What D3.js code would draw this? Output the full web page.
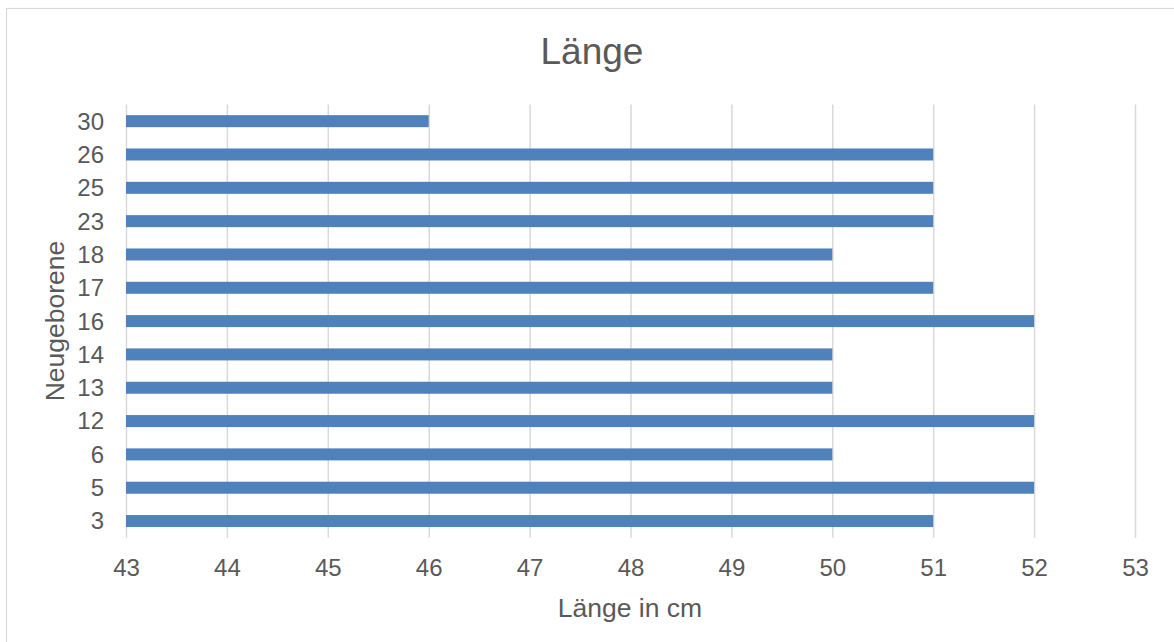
<!DOCTYPE html>
<html lang="de">
<head>
<meta charset="utf-8">
<title>Länge</title>
<script src="https://cdn.jsdelivr.net/npm/d3@7"></script>
<style>
  html, body { margin: 0; padding: 0; background: #fff; }
  svg { display: block; font-family: "Liberation Sans", Arial, sans-serif; }
</style>
</head>
<body>
<svg id="chart" width="1174" height="642"></svg>
<script>
// Newborn IDs (bottom to top) and their length in cm
const newborns = ["3", "5", "6", "12", "13", "14", "16", "17", "18", "23", "25", "26", "30"];
const lengths  = [51, 52, 50, 52, 50, 50, 52, 51, 50, 51, 51, 51, 46];
const xTicks   = [43, 44, 45, 46, 47, 48, 49, 50, 51, 52, 53];

const chartTitle = "Länge";
const xTitle = "Länge in cm";
const yTitle = "Neugeborene";

const textColor = "#595959";
const gridColor = "#d9d9d9";
const barColor = "#4f81bd";

const svg = d3.select("#chart");

// chart frame
svg.append("rect")
  .attr("x", 6.5).attr("y", 8.5)
  .attr("width", 1200).attr("height", 700)
  .attr("fill", "#fff")
  .attr("stroke", gridColor)
  .attr("stroke-width", 1.2);

const plot = { left: 126, right: 1135, top: 104.5, bottom: 537.7 };

const x = d3.scaleLinear()
  .domain([xTicks[0], xTicks[xTicks.length - 1]])
  .range([plot.left, plot.right]);

const y = d3.scaleBand()
  .domain(newborns.slice().reverse())
  .range([plot.top, plot.bottom])
  .paddingInner(0.64)
  .paddingOuter(0.32);

// vertical gridlines + tick labels via a bottom axis
const xAxis = d3.axisBottom(x)
  .tickValues(xTicks)
  .tickSize(-(plot.bottom - plot.top))
  .tickSizeOuter(0)
  .tickPadding(0);

const gx = svg.append("g")
  .attr("transform", `translate(0,${plot.bottom})`)
  .call(xAxis);
gx.select(".domain").remove();
gx.selectAll(".tick line")
  .attr("stroke", gridColor)
  .attr("stroke-width", 1.5);
gx.selectAll(".tick text")
  .attr("fill", textColor)
  .attr("font-size", 24)
  .attr("dy", null)
  .attr("y", 38);

// category labels via a left axis
const yAxis = d3.axisLeft(y).tickSize(0).tickPadding(22);
const gy = svg.append("g")
  .attr("transform", `translate(${plot.left},0)`)
  .call(yAxis);
gy.select(".domain").remove();
gy.selectAll(".tick text")
  .attr("fill", textColor)
  .attr("font-size", 24)
  .attr("dy", "0.35em");

// bars
const rows = newborns.map((id, i) => ({ id, value: lengths[i] }));
svg.append("g")
  .selectAll("rect")
  .data(rows)
  .join("rect")
  .attr("x", x(xTicks[0]))
  .attr("y", d => y(d.id))
  .attr("width", d => x(d.value) - x(xTicks[0]))
  .attr("height", y.bandwidth())
  .attr("fill", barColor);

// titles
svg.append("text")
  .attr("x", 592).attr("y", 63.5)
  .attr("text-anchor", "middle")
  .attr("fill", textColor)
  .attr("font-size", 37)
  .text(chartTitle);

svg.append("text")
  .attr("x", 630).attr("y", 617)
  .attr("text-anchor", "middle")
  .attr("fill", textColor)
  .attr("font-size", 26.5)
  .text(xTitle);

svg.append("text")
  .attr("transform", "translate(64,321) rotate(-90)")
  .attr("text-anchor", "middle")
  .attr("fill", textColor)
  .attr("font-size", 26.5)
  .text(yTitle);
</script>
</body>
</html>
